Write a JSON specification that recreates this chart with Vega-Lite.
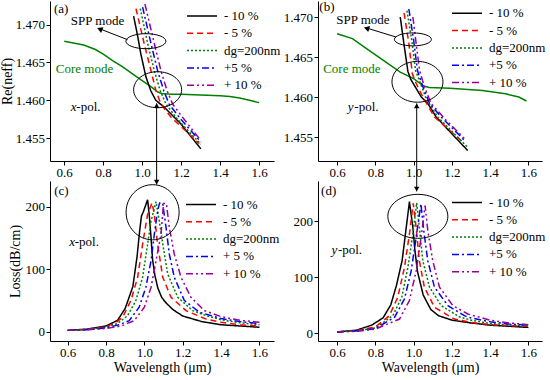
{
  "$schema": "https://vega.github.io/schema/vega-lite/v6.json",
  "padding": {"left": 0, "top": 0, "right": 0, "bottom": 0},
  "background": "white",
  "config": {
    "font": "Liberation Serif",
    "view": {"stroke": null},
    "axis": {"labelFont": "Liberation Serif", "labelFontSize": 13, "labelColor": "#000", "titleFont": "Liberation Serif", "titleFontSize": 14, "titleFontWeight": "normal", "titleColor": "#000", "domainColor": "#000", "tickColor": "#000", "grid": false, "tickSize": 4, "labelPadding": 1.5, "labelFlush": false, "labelOverlap": false, "titlePadding": 1},
    "legend": {"title": null, "orient": "none", "symbolType": "M-2.5,0H2.5", "symbolSize": 144, "symbolStrokeWidth": 1.5, "labelFont": "Liberation Serif", "labelFontSize": 13, "labelColor": "#000", "rowPadding": 3.3, "padding": 0, "labelOffset": 15},
    "text": {"font": "Liberation Serif", "fontSize": 13, "color": "#000"}
  },
  "datasets": {
    "a_core": [
      {"w": 0.6, "v": 1.4678}, {"w": 0.7, "v": 1.4673}, {"w": 0.76, "v": 1.4667}, {"w": 0.8, "v": 1.4661}, {"w": 0.85, "v": 1.4652}, {"w": 0.9, "v": 1.4644}, {"w": 0.95, "v": 1.4635}, {"w": 1.0, "v": 1.4626}, {"w": 1.05, "v": 1.4617}, {"w": 1.08, "v": 1.4611}, {"w": 1.1, "v": 1.4609}, {"w": 1.15, "v": 1.4608}, {"w": 1.2, "v": 1.4608}, {"w": 1.3, "v": 1.4607}, {"w": 1.4, "v": 1.4606}, {"w": 1.45, "v": 1.4605}, {"w": 1.5, "v": 1.4603}, {"w": 1.55, "v": 1.46}, {"w": 1.6, "v": 1.4597}
    ],
    "b_core": [
      {"w": 0.6, "v": 1.4679}, {"w": 0.68, "v": 1.4673}, {"w": 0.75, "v": 1.4661}, {"w": 0.84, "v": 1.4646}, {"w": 0.93, "v": 1.4631}, {"w": 1.0, "v": 1.4623}, {"w": 1.05, "v": 1.4614}, {"w": 1.08, "v": 1.4612}, {"w": 1.19, "v": 1.4611}, {"w": 1.36, "v": 1.4608}, {"w": 1.48, "v": 1.4604}, {"w": 1.55, "v": 1.46}, {"w": 1.59, "v": 1.4595}
    ],
    "a_spp": [
      {"s": "- 10 %", "w": 0.956, "v": 1.4711}, {"s": "- 10 %", "w": 0.975, "v": 1.4687}, {"s": "- 10 %", "w": 0.993, "v": 1.4661}, {"s": "- 10 %", "w": 1.019, "v": 1.4631}, {"s": "- 10 %", "w": 1.045, "v": 1.4612}, {"s": "- 10 %", "w": 1.07, "v": 1.46}, {"s": "- 10 %", "w": 1.113, "v": 1.4591}, {"s": "- 10 %", "w": 1.198, "v": 1.4569}, {"s": "- 10 %", "w": 1.301, "v": 1.4536},
      {"s": "- 5 %", "w": 0.968, "v": 1.4721}, {"s": "- 5 %", "w": 1.01, "v": 1.4675}, {"s": "- 5 %", "w": 1.045, "v": 1.4639}, {"s": "- 5 %", "w": 1.07, "v": 1.4613}, {"s": "- 5 %", "w": 1.096, "v": 1.4595}, {"s": "- 5 %", "w": 1.147, "v": 1.4578}, {"s": "- 5 %", "w": 1.292, "v": 1.4543},
      {"s": "dg=200nm", "w": 0.99, "v": 1.4721}, {"s": "dg=200nm", "w": 1.028, "v": 1.4675}, {"s": "dg=200nm", "w": 1.062, "v": 1.4639}, {"s": "dg=200nm", "w": 1.092, "v": 1.4613}, {"s": "dg=200nm", "w": 1.122, "v": 1.4595}, {"s": "dg=200nm", "w": 1.181, "v": 1.4575}, {"s": "dg=200nm", "w": 1.301, "v": 1.4542},
      {"s": "+5 %", "w": 1.002, "v": 1.4723}, {"s": "+5 %", "w": 1.045, "v": 1.4675}, {"s": "+5 %", "w": 1.079, "v": 1.4639}, {"s": "+5 %", "w": 1.11, "v": 1.4613}, {"s": "+5 %", "w": 1.138, "v": 1.4595}, {"s": "+5 %", "w": 1.198, "v": 1.4575}, {"s": "+5 %", "w": 1.301, "v": 1.4545},
      {"s": "+ 10 %", "w": 1.014, "v": 1.4727}, {"s": "+ 10 %", "w": 1.062, "v": 1.4675}, {"s": "+ 10 %", "w": 1.096, "v": 1.4639}, {"s": "+ 10 %", "w": 1.127, "v": 1.4613}, {"s": "+ 10 %", "w": 1.156, "v": 1.4595}, {"s": "+ 10 %", "w": 1.215, "v": 1.4575}, {"s": "+ 10 %", "w": 1.301, "v": 1.4547}
    ],
    "b_spp": [
      {"s": "- 10 %", "w": 0.93, "v": 1.47}, {"s": "- 10 %", "w": 0.95, "v": 1.4665}, {"s": "- 10 %", "w": 0.97, "v": 1.4632}, {"s": "- 10 %", "w": 0.985, "v": 1.4622}, {"s": "- 10 %", "w": 1.04, "v": 1.46}, {"s": "- 10 %", "w": 1.074, "v": 1.4592}, {"s": "- 10 %", "w": 1.118, "v": 1.4575}, {"s": "- 10 %", "w": 1.2, "v": 1.4554}, {"s": "- 10 %", "w": 1.283, "v": 1.4533},
      {"s": "- 5 %", "w": 0.95, "v": 1.4705}, {"s": "- 5 %", "w": 0.975, "v": 1.4667}, {"s": "- 5 %", "w": 0.993, "v": 1.4629}, {"s": "- 5 %", "w": 1.013, "v": 1.4617}, {"s": "- 5 %", "w": 1.048, "v": 1.46}, {"s": "- 5 %", "w": 1.109, "v": 1.4575}, {"s": "- 5 %", "w": 1.265, "v": 1.4542},
      {"s": "dg=200nm", "w": 0.965, "v": 1.4708}, {"s": "dg=200nm", "w": 0.99, "v": 1.4671}, {"s": "dg=200nm", "w": 1.01, "v": 1.4633}, {"s": "dg=200nm", "w": 1.036, "v": 1.4617}, {"s": "dg=200nm", "w": 1.065, "v": 1.4598}, {"s": "dg=200nm", "w": 1.126, "v": 1.4575}, {"s": "dg=200nm", "w": 1.283, "v": 1.4537},
      {"s": "+5 %", "w": 0.975, "v": 1.471}, {"s": "+5 %", "w": 1.0, "v": 1.4671}, {"s": "+5 %", "w": 1.02, "v": 1.4633}, {"s": "+5 %", "w": 1.048, "v": 1.4613}, {"s": "+5 %", "w": 1.083, "v": 1.4592}, {"s": "+5 %", "w": 1.144, "v": 1.4575}, {"s": "+5 %", "w": 1.265, "v": 1.4546},
      {"s": "+ 10 %", "w": 0.996, "v": 1.47}, {"s": "+ 10 %", "w": 1.013, "v": 1.4667}, {"s": "+ 10 %", "w": 1.031, "v": 1.4633}, {"s": "+ 10 %", "w": 1.056, "v": 1.4613}, {"s": "+ 10 %", "w": 1.091, "v": 1.4592}, {"s": "+ 10 %", "w": 1.17, "v": 1.4571}, {"s": "+ 10 %", "w": 1.274, "v": 1.4546}
    ],
    "c_loss": [
      {"s": "- 10 %", "w": 0.6, "v": 2}, {"s": "- 10 %", "w": 0.7, "v": 4}, {"s": "- 10 %", "w": 0.8, "v": 9}, {"s": "- 10 %", "w": 0.86, "v": 18}, {"s": "- 10 %", "w": 0.9, "v": 37}, {"s": "- 10 %", "w": 0.94, "v": 72}, {"s": "- 10 %", "w": 0.962, "v": 120}, {"s": "- 10 %", "w": 0.975, "v": 160}, {"s": "- 10 %", "w": 0.985, "v": 185}, {"s": "- 10 %", "w": 0.995, "v": 192}, {"s": "- 10 %", "w": 1.017, "v": 211}, {"s": "- 10 %", "w": 1.026, "v": 185}, {"s": "- 10 %", "w": 1.035, "v": 150}, {"s": "- 10 %", "w": 1.043, "v": 115}, {"s": "- 10 %", "w": 1.055, "v": 90}, {"s": "- 10 %", "w": 1.07, "v": 70}, {"s": "- 10 %", "w": 1.09, "v": 55}, {"s": "- 10 %", "w": 1.113, "v": 46}, {"s": "- 10 %", "w": 1.15, "v": 35}, {"s": "- 10 %", "w": 1.2, "v": 25}, {"s": "- 10 %", "w": 1.3, "v": 16}, {"s": "- 10 %", "w": 1.4, "v": 11}, {"s": "- 10 %", "w": 1.5, "v": 9}, {"s": "- 10 %", "w": 1.6, "v": 7},
      {"s": "- 5 %", "w": 0.6, "v": 2}, {"s": "- 5 %", "w": 0.7, "v": 3.5}, {"s": "- 5 %", "w": 0.8, "v": 8}, {"s": "- 5 %", "w": 0.85, "v": 14}, {"s": "- 5 %", "w": 0.887, "v": 23}, {"s": "- 5 %", "w": 0.93, "v": 50}, {"s": "- 5 %", "w": 0.965, "v": 87}, {"s": "- 5 %", "w": 0.991, "v": 140}, {"s": "- 5 %", "w": 1.017, "v": 188}, {"s": "- 5 %", "w": 1.04, "v": 206}, {"s": "- 5 %", "w": 1.052, "v": 188}, {"s": "- 5 %", "w": 1.069, "v": 140}, {"s": "- 5 %", "w": 1.096, "v": 87}, {"s": "- 5 %", "w": 1.139, "v": 55}, {"s": "- 5 %", "w": 1.217, "v": 33.6}, {"s": "- 5 %", "w": 1.322, "v": 20}, {"s": "- 5 %", "w": 1.4, "v": 15}, {"s": "- 5 %", "w": 1.5, "v": 11}, {"s": "- 5 %", "w": 1.6, "v": 9},
      {"s": "dg=200nm", "w": 0.6, "v": 2}, {"s": "dg=200nm", "w": 0.7, "v": 3.5}, {"s": "dg=200nm", "w": 0.8, "v": 7}, {"s": "dg=200nm", "w": 0.86, "v": 13}, {"s": "dg=200nm", "w": 0.913, "v": 25.6}, {"s": "dg=200nm", "w": 0.956, "v": 50}, {"s": "dg=200nm", "w": 0.991, "v": 87}, {"s": "dg=200nm", "w": 1.017, "v": 140}, {"s": "dg=200nm", "w": 1.035, "v": 177}, {"s": "dg=200nm", "w": 1.061, "v": 208}, {"s": "dg=200nm", "w": 1.078, "v": 177}, {"s": "dg=200nm", "w": 1.096, "v": 140}, {"s": "dg=200nm", "w": 1.122, "v": 92}, {"s": "dg=200nm", "w": 1.174, "v": 55}, {"s": "dg=200nm", "w": 1.252, "v": 33.6}, {"s": "dg=200nm", "w": 1.322, "v": 25.6}, {"s": "dg=200nm", "w": 1.4, "v": 19}, {"s": "dg=200nm", "w": 1.5, "v": 14}, {"s": "dg=200nm", "w": 1.6, "v": 11},
      {"s": "+5 %", "w": 0.6, "v": 2}, {"s": "+5 %", "w": 0.7, "v": 3}, {"s": "+5 %", "w": 0.8, "v": 6}, {"s": "+5 %", "w": 0.87, "v": 11}, {"s": "+5 %", "w": 0.921, "v": 17.6}, {"s": "+5 %", "w": 0.973, "v": 39}, {"s": "+5 %", "w": 1.008, "v": 71}, {"s": "+5 %", "w": 1.035, "v": 113.6}, {"s": "+5 %", "w": 1.052, "v": 156}, {"s": "+5 %", "w": 1.07, "v": 195}, {"s": "+5 %", "w": 1.08, "v": 206}, {"s": "+5 %", "w": 1.095, "v": 206}, {"s": "+5 %", "w": 1.113, "v": 167}, {"s": "+5 %", "w": 1.13, "v": 124}, {"s": "+5 %", "w": 1.156, "v": 87}, {"s": "+5 %", "w": 1.208, "v": 50}, {"s": "+5 %", "w": 1.287, "v": 31}, {"s": "+5 %", "w": 1.4, "v": 21}, {"s": "+5 %", "w": 1.5, "v": 16}, {"s": "+5 %", "w": 1.6, "v": 13},
      {"s": "+ 10 %", "w": 0.6, "v": 2}, {"s": "+ 10 %", "w": 0.7, "v": 3}, {"s": "+ 10 %", "w": 0.8, "v": 5}, {"s": "+ 10 %", "w": 0.88, "v": 9}, {"s": "+ 10 %", "w": 0.947, "v": 17.6}, {"s": "+ 10 %", "w": 1.0, "v": 39}, {"s": "+ 10 %", "w": 1.035, "v": 71}, {"s": "+ 10 %", "w": 1.061, "v": 113.6}, {"s": "+ 10 %", "w": 1.087, "v": 156}, {"s": "+ 10 %", "w": 1.1, "v": 205}, {"s": "+ 10 %", "w": 1.115, "v": 205}, {"s": "+ 10 %", "w": 1.13, "v": 167}, {"s": "+ 10 %", "w": 1.156, "v": 124}, {"s": "+ 10 %", "w": 1.191, "v": 87}, {"s": "+ 10 %", "w": 1.243, "v": 55}, {"s": "+ 10 %", "w": 1.313, "v": 33.6}, {"s": "+ 10 %", "w": 1.4, "v": 24}, {"s": "+ 10 %", "w": 1.5, "v": 18}, {"s": "+ 10 %", "w": 1.6, "v": 15}
    ],
    "d_loss": [
      {"s": "- 10 %", "w": 0.6, "v": 2}, {"s": "- 10 %", "w": 0.7, "v": 5}, {"s": "- 10 %", "w": 0.78, "v": 14}, {"s": "- 10 %", "w": 0.84, "v": 27}, {"s": "- 10 %", "w": 0.88, "v": 50}, {"s": "- 10 %", "w": 0.91, "v": 85}, {"s": "- 10 %", "w": 0.94, "v": 130}, {"s": "- 10 %", "w": 0.961, "v": 188}, {"s": "- 10 %", "w": 0.978, "v": 235}, {"s": "- 10 %", "w": 0.996, "v": 189}, {"s": "- 10 %", "w": 1.006, "v": 150}, {"s": "- 10 %", "w": 1.02, "v": 110}, {"s": "- 10 %", "w": 1.05, "v": 68}, {"s": "- 10 %", "w": 1.09, "v": 42}, {"s": "- 10 %", "w": 1.13, "v": 31}, {"s": "- 10 %", "w": 1.2, "v": 23}, {"s": "- 10 %", "w": 1.3, "v": 18}, {"s": "- 10 %", "w": 1.4, "v": 14}, {"s": "- 10 %", "w": 1.5, "v": 12}, {"s": "- 10 %", "w": 1.6, "v": 10},
      {"s": "- 5 %", "w": 0.6, "v": 2}, {"s": "- 5 %", "w": 0.7, "v": 4}, {"s": "- 5 %", "w": 0.8, "v": 11}, {"s": "- 5 %", "w": 0.873, "v": 31}, {"s": "- 5 %", "w": 0.917, "v": 64}, {"s": "- 5 %", "w": 0.952, "v": 117.5}, {"s": "- 5 %", "w": 0.978, "v": 177}, {"s": "- 5 %", "w": 0.998, "v": 232}, {"s": "- 5 %", "w": 1.013, "v": 189}, {"s": "- 5 %", "w": 1.03, "v": 129}, {"s": "- 5 %", "w": 1.056, "v": 82}, {"s": "- 5 %", "w": 1.109, "v": 46}, {"s": "- 5 %", "w": 1.213, "v": 25}, {"s": "- 5 %", "w": 1.3, "v": 19}, {"s": "- 5 %", "w": 1.4, "v": 15}, {"s": "- 5 %", "w": 1.5, "v": 13}, {"s": "- 5 %", "w": 1.6, "v": 12},
      {"s": "dg=200nm", "w": 0.6, "v": 2}, {"s": "dg=200nm", "w": 0.7, "v": 4}, {"s": "dg=200nm", "w": 0.8, "v": 9}, {"s": "dg=200nm", "w": 0.891, "v": 31}, {"s": "dg=200nm", "w": 0.938, "v": 64}, {"s": "dg=200nm", "w": 0.97, "v": 117.5}, {"s": "dg=200nm", "w": 0.996, "v": 177}, {"s": "dg=200nm", "w": 1.016, "v": 233}, {"s": "dg=200nm", "w": 1.03, "v": 189}, {"s": "dg=200nm", "w": 1.048, "v": 129}, {"s": "dg=200nm", "w": 1.083, "v": 82}, {"s": "dg=200nm", "w": 1.144, "v": 49}, {"s": "dg=200nm", "w": 1.239, "v": 29}, {"s": "dg=200nm", "w": 1.3, "v": 23}, {"s": "dg=200nm", "w": 1.4, "v": 17}, {"s": "dg=200nm", "w": 1.5, "v": 14.5}, {"s": "dg=200nm", "w": 1.6, "v": 13},
      {"s": "+5 %", "w": 0.6, "v": 2}, {"s": "+5 %", "w": 0.7, "v": 3.5}, {"s": "+5 %", "w": 0.8, "v": 8}, {"s": "+5 %", "w": 0.9, "v": 28}, {"s": "+5 %", "w": 0.952, "v": 61}, {"s": "+5 %", "w": 0.987, "v": 111}, {"s": "+5 %", "w": 1.013, "v": 171}, {"s": "+5 %", "w": 1.038, "v": 231}, {"s": "+5 %", "w": 1.053, "v": 183}, {"s": "+5 %", "w": 1.074, "v": 129}, {"s": "+5 %", "w": 1.109, "v": 82}, {"s": "+5 %", "w": 1.179, "v": 49}, {"s": "+5 %", "w": 1.265, "v": 31}, {"s": "+5 %", "w": 1.3, "v": 27}, {"s": "+5 %", "w": 1.4, "v": 20}, {"s": "+5 %", "w": 1.5, "v": 16}, {"s": "+5 %", "w": 1.6, "v": 14},
      {"s": "+ 10 %", "w": 0.6, "v": 2}, {"s": "+ 10 %", "w": 0.7, "v": 3}, {"s": "+ 10 %", "w": 0.8, "v": 7}, {"s": "+ 10 %", "w": 0.926, "v": 25}, {"s": "+ 10 %", "w": 0.978, "v": 58}, {"s": "+ 10 %", "w": 1.013, "v": 111}, {"s": "+ 10 %", "w": 1.039, "v": 171}, {"s": "+ 10 %", "w": 1.06, "v": 228}, {"s": "+ 10 %", "w": 1.074, "v": 183}, {"s": "+ 10 %", "w": 1.1, "v": 129}, {"s": "+ 10 %", "w": 1.135, "v": 82}, {"s": "+ 10 %", "w": 1.205, "v": 49}, {"s": "+ 10 %", "w": 1.283, "v": 34}, {"s": "+ 10 %", "w": 1.4, "v": 23}, {"s": "+ 10 %", "w": 1.5, "v": 18}, {"s": "+ 10 %", "w": 1.6, "v": 15}
    ]
  },
  "columns": 2,
  "spacing": {"row": 20, "column": 44},
  "bounds": "flush",
  "resolve": {"scale": {"x": "independent", "y": "independent", "color": "independent", "strokeDash": "independent"}, "legend": {"color": "independent", "strokeDash": "independent"}},
  "concat": [
    {
      "width": 224, "height": 160,
      "layer": [
        {"data": {"name": "a_core"}, "mark": {"type": "line", "color": "#008000", "strokeWidth": 1.5, "clip": true},
         "encoding": {
           "x": {"field": "w", "type": "quantitative", "scale": {"domain": [0.527, 1.676], "nice": false, "zero": false}, "axis": {"title": null, "values": [0.6, 0.7, 0.8, 0.9, 1.0, 1.1, 1.2, 1.3, 1.4, 1.5, 1.6], "labelExpr": "round(datum.value*10) % 2 == 0 ? format(datum.value, '.1f') : ''"}},
           "y": {"field": "v", "type": "quantitative", "scale": {"domain": [1.452, 1.4731], "nice": false, "zero": false}, "axis": {"title": "Re(neff)", "values": [1.455, 1.46, 1.465, 1.47], "format": ".3f"}}
         }},
        {"data": {"name": "a_spp"}, "mark": {"type": "line", "strokeWidth": 1.5, "clip": true},
         "encoding": {
           "x": {"field": "w", "type": "quantitative"},
           "y": {"field": "v", "type": "quantitative"},
           "color": {"field": "s", "type": "nominal", "scale": {"domain": ["- 10 %", "- 5 %", "dg=200nm", "+5 %", "+ 10 %"], "range": ["#000000", "#ff0000", "#008000", "#0000ff", "#990099"]}, "legend": {"legendX": 145, "legendY": 8}},
           "strokeDash": {"field": "s", "type": "nominal", "scale": {"domain": ["- 10 %", "- 5 %", "dg=200nm", "+5 %", "+ 10 %"], "range": [[1, 0], [6, 4], [2, 2], [7, 3, 2, 3], [7, 3, 2, 3, 2, 3]]}, "legend": {"legendX": 145, "legendY": 8}}
         }},
        {"data": {"values": [{"w": 0.547, "v": 1.4721, "t": "(a)"}]}, "mark": {"type": "text", "align": "left", "baseline": "middle"}, "encoding": {"x": {"field": "w", "type": "quantitative"}, "y": {"field": "v", "type": "quantitative"}, "text": {"field": "t"}}},
        {"data": {"values": [{"w": 0.634, "v": 1.4705, "t": "SPP mode"}, {"w": 0.662, "v": 1.4591, "t": "-pol."}]}, "mark": {"type": "text", "align": "left", "baseline": "middle"}, "encoding": {"x": {"field": "w", "type": "quantitative"}, "y": {"field": "v", "type": "quantitative"}, "text": {"field": "t"}}},
        {"data": {"values": [{"w": 0.634, "v": 1.4591, "t": "x"}]}, "mark": {"type": "text", "align": "left", "baseline": "middle", "fontStyle": "italic"}, "encoding": {"x": {"field": "w", "type": "quantitative"}, "y": {"field": "v", "type": "quantitative"}, "text": {"field": "t"}}},
        {"data": {"values": [{"w": 0.557, "v": 1.4641, "t": "Core mode"}]}, "mark": {"type": "text", "align": "left", "baseline": "middle", "color": "#008000"}, "encoding": {"x": {"field": "w", "type": "quantitative"}, "y": {"field": "v", "type": "quantitative"}, "text": {"field": "t"}}},
        {"data": {"values": [{"w": 1.019, "v": 1.4678}]}, "mark": {"type": "point", "filled": false, "stroke": "#000", "strokeWidth": 1, "opacity": 1, "size": 1600, "shape": "M-1,0C-1,-0.207,-0.552,-0.375,0,-0.375C0.552,-0.375,1,-0.207,1,0C1,0.207,0.552,0.375,0,0.375C-0.552,0.375,-1,0.207,-1,0Z"}, "encoding": {"x": {"field": "w", "type": "quantitative"}, "y": {"field": "v", "type": "quantitative"}}},
        {"data": {"values": [{"w": 1.079, "v": 1.4614}]}, "mark": {"type": "point", "filled": false, "stroke": "#000", "strokeWidth": 1, "opacity": 1, "size": 2304, "shape": "M-1,0C-1,-0.414,-0.552,-0.75,0,-0.75C0.552,-0.75,1,-0.414,1,0C1,0.414,0.552,0.75,0,0.75C-0.552,0.75,-1,0.414,-1,0Z"}, "encoding": {"x": {"field": "w", "type": "quantitative"}, "y": {"field": "v", "type": "quantitative"}}},
        {"data": {"values": [{"w": 0.925, "v": 1.468, "w2": 0.785, "v2": 1.4694}]}, "mark": {"type": "rule", "color": "#000", "strokeWidth": 1}, "encoding": {"x": {"field": "w", "type": "quantitative"}, "y": {"field": "v", "type": "quantitative"}, "x2": {"field": "w2"}, "y2": {"field": "v2"}}},
        {"data": {"values": [{"w": 0.782, "v": 1.4694}]}, "mark": {"type": "point", "shape": "triangle-left", "angle": 22, "filled": true, "color": "#000", "opacity": 1, "size": 40}, "encoding": {"x": {"field": "w", "type": "quantitative"}, "y": {"field": "v", "type": "quantitative"}}},
        {"data": {"values": [{"w": 1.074, "v": 1.4596, "v2": 1.4489}]}, "mark": {"type": "rule", "color": "#000", "strokeWidth": 1, "clip": false}, "encoding": {"x": {"field": "w", "type": "quantitative"}, "y": {"field": "v", "type": "quantitative"}, "y2": {"field": "v2"}}},
        {"data": {"values": [{"w": 1.074, "v": 1.4593}]}, "mark": {"type": "point", "shape": "triangle-up", "filled": true, "color": "#000", "opacity": 1, "size": 30, "clip": false}, "encoding": {"x": {"field": "w", "type": "quantitative"}, "y": {"field": "v", "type": "quantitative"}}},
        {"data": {"values": [{"w": 1.074, "v": 1.4492}]}, "mark": {"type": "point", "shape": "triangle-down", "filled": true, "color": "#000", "opacity": 1, "size": 30, "clip": false}, "encoding": {"x": {"field": "w", "type": "quantitative"}, "y": {"field": "v", "type": "quantitative"}}}
      ]
    },
    {
      "width": 224, "height": 160,
      "layer": [
        {"data": {"name": "b_core"}, "mark": {"type": "line", "color": "#008000", "strokeWidth": 1.5, "clip": true},
         "encoding": {
           "x": {"field": "w", "type": "quantitative", "scale": {"domain": [0.5, 1.671], "nice": false, "zero": false}, "axis": {"title": null, "values": [0.6, 0.7, 0.8, 0.9, 1.0, 1.1, 1.2, 1.3, 1.4, 1.5, 1.6], "labelExpr": "round(datum.value*10) % 2 == 0 ? format(datum.value, '.1f') : ''"}},
           "y": {"field": "v", "type": "quantitative", "scale": {"domain": [1.452, 1.472], "nice": false, "zero": false}, "axis": {"title": null, "values": [1.455, 1.46, 1.465, 1.47], "format": ".3f"}}
         }},
        {"data": {"name": "b_spp"}, "mark": {"type": "line", "strokeWidth": 1.5, "clip": true},
         "encoding": {
           "x": {"field": "w", "type": "quantitative"},
           "y": {"field": "v", "type": "quantitative"},
           "color": {"field": "s", "type": "nominal", "scale": {"domain": ["- 10 %", "- 5 %", "dg=200nm", "+5 %", "+ 10 %"], "range": ["#000000", "#ff0000", "#008000", "#0000ff", "#990099"]}, "legend": {"legendX": 142, "legendY": 5.3}},
           "strokeDash": {"field": "s", "type": "nominal", "scale": {"domain": ["- 10 %", "- 5 %", "dg=200nm", "+5 %", "+ 10 %"], "range": [[1, 0], [6, 4], [2, 2], [7, 3, 2, 3], [7, 3, 2, 3, 2, 3]]}, "legend": {"legendX": 142, "legendY": 5.3}}
         }},
        {"data": {"values": [{"w": 0.507, "v": 1.4713, "t": "(b)"}]}, "mark": {"type": "text", "align": "left", "baseline": "middle"}, "encoding": {"x": {"field": "w", "type": "quantitative"}, "y": {"field": "v", "type": "quantitative"}, "text": {"field": "t"}}},
        {"data": {"values": [{"w": 0.595, "v": 1.4696, "t": "SPP mode"}, {"w": 0.69, "v": 1.4588, "t": "-pol."}]}, "mark": {"type": "text", "align": "left", "baseline": "middle"}, "encoding": {"x": {"field": "w", "type": "quantitative"}, "y": {"field": "v", "type": "quantitative"}, "text": {"field": "t"}}},
        {"data": {"values": [{"w": 0.656, "v": 1.4588, "t": "y"}]}, "mark": {"type": "text", "align": "left", "baseline": "middle", "fontStyle": "italic"}, "encoding": {"x": {"field": "w", "type": "quantitative"}, "y": {"field": "v", "type": "quantitative"}, "text": {"field": "t"}}},
        {"data": {"values": [{"w": 0.527, "v": 1.4635, "t": "Core mode"}]}, "mark": {"type": "text", "align": "left", "baseline": "middle", "color": "#008000"}, "encoding": {"x": {"field": "w", "type": "quantitative"}, "y": {"field": "v", "type": "quantitative"}, "text": {"field": "t"}}},
        {"data": {"values": [{"w": 0.996, "v": 1.4672}]}, "mark": {"type": "point", "filled": false, "stroke": "#000", "strokeWidth": 1, "opacity": 1, "size": 1369, "shape": "M-1,0C-1,-0.193,-0.552,-0.35,0,-0.35C0.552,-0.35,1,-0.193,1,0C1,0.193,0.552,0.35,0,0.35C-0.552,0.35,-1,0.193,-1,0Z"}, "encoding": {"x": {"field": "w", "type": "quantitative"}, "y": {"field": "v", "type": "quantitative"}}},
        {"data": {"values": [{"w": 1.02, "v": 1.4619}]}, "mark": {"type": "point", "filled": false, "stroke": "#000", "strokeWidth": 1, "opacity": 1, "size": 2601, "shape": "M-1,0C-1,-0.442,-0.552,-0.8,0,-0.8C0.552,-0.8,1,-0.442,1,0C1,0.442,0.552,0.8,0,0.8C-0.552,0.8,-1,0.442,-1,0Z"}, "encoding": {"x": {"field": "w", "type": "quantitative"}, "y": {"field": "v", "type": "quantitative"}}},
        {"data": {"values": [{"w": 0.908, "v": 1.4675, "w2": 0.757, "v2": 1.4686}]}, "mark": {"type": "rule", "color": "#000", "strokeWidth": 1}, "encoding": {"x": {"field": "w", "type": "quantitative"}, "y": {"field": "v", "type": "quantitative"}, "x2": {"field": "w2"}, "y2": {"field": "v2"}}},
        {"data": {"values": [{"w": 0.754, "v": 1.4686}]}, "mark": {"type": "point", "shape": "triangle-left", "angle": 17, "filled": true, "color": "#000", "opacity": 1, "size": 40}, "encoding": {"x": {"field": "w", "type": "quantitative"}, "y": {"field": "v", "type": "quantitative"}}},
        {"data": {"values": [{"w": 1.016, "v": 1.4592, "v2": 1.4482}]}, "mark": {"type": "rule", "color": "#000", "strokeWidth": 1, "clip": false}, "encoding": {"x": {"field": "w", "type": "quantitative"}, "y": {"field": "v", "type": "quantitative"}, "y2": {"field": "v2"}}},
        {"data": {"values": [{"w": 1.016, "v": 1.4589}]}, "mark": {"type": "point", "shape": "triangle-up", "filled": true, "color": "#000", "opacity": 1, "size": 30, "clip": false}, "encoding": {"x": {"field": "w", "type": "quantitative"}, "y": {"field": "v", "type": "quantitative"}}},
        {"data": {"values": [{"w": 1.016, "v": 1.4485}]}, "mark": {"type": "point", "shape": "triangle-down", "filled": true, "color": "#000", "opacity": 1, "size": 30, "clip": false}, "encoding": {"x": {"field": "w", "type": "quantitative"}, "y": {"field": "v", "type": "quantitative"}}}
      ]
    },
    {
      "width": 224, "height": 160,
      "layer": [
        {"data": {"name": "c_loss"}, "mark": {"type": "line", "strokeWidth": 1.5, "clip": true},
         "encoding": {
           "x": {"field": "w", "type": "quantitative", "scale": {"domain": [0.508, 1.676], "nice": false, "zero": false}, "axis": {"title": "Wavelength (μm)", "values": [0.6, 0.7, 0.8, 0.9, 1.0, 1.1, 1.2, 1.3, 1.4, 1.5, 1.6], "labelExpr": "round(datum.value*10) % 2 == 0 ? format(datum.value, '.1f') : ''"}},
           "y": {"field": "v", "type": "quantitative", "scale": {"domain": [-15, 241], "nice": false, "zero": false}, "axis": {"title": "Loss(dB/cm)", "titlePadding": 3, "values": [0, 25, 50, 75, 100, 125, 150, 175, 200, 225], "labelExpr": "datum.value % 50 == 0 ? format(datum.value, 'd') : ''"}},
           "color": {"field": "s", "type": "nominal", "scale": {"domain": ["- 10 %", "- 5 %", "dg=200nm", "+5 %", "+ 10 %"], "range": ["#000000", "#ff0000", "#008000", "#0000ff", "#990099"]}, "legend": {"legendX": 144, "legendY": 16.5, "labelExpr": "datum.label == '+5 %' ? '+ 5 %' : datum.label"}},
           "strokeDash": {"field": "s", "type": "nominal", "scale": {"domain": ["- 10 %", "- 5 %", "dg=200nm", "+5 %", "+ 10 %"], "range": [[1, 0], [6, 4], [2, 2], [7, 3, 2, 3], [7, 3, 2, 3, 2, 3]]}, "legend": {"legendX": 144, "legendY": 16.5, "labelExpr": "datum.label == '+5 %' ? '+ 5 %' : datum.label"}}
         }},
        {"data": {"values": [{"w": 0.53, "v": 225.6, "t": "(c)"}]}, "mark": {"type": "text", "align": "left", "baseline": "middle"}, "encoding": {"x": {"field": "w", "type": "quantitative"}, "y": {"field": "v", "type": "quantitative"}, "text": {"field": "t"}}},
        {"data": {"values": [{"w": 0.637, "v": 143, "t": "-pol."}]}, "mark": {"type": "text", "align": "left", "baseline": "middle"}, "encoding": {"x": {"field": "w", "type": "quantitative"}, "y": {"field": "v", "type": "quantitative"}, "text": {"field": "t"}}},
        {"data": {"values": [{"w": 0.608, "v": 143, "t": "x"}]}, "mark": {"type": "text", "align": "left", "baseline": "middle", "fontStyle": "italic"}, "encoding": {"x": {"field": "w", "type": "quantitative"}, "y": {"field": "v", "type": "quantitative"}, "text": {"field": "t"}}},
        {"data": {"values": [{"w": 1.043, "v": 191}]}, "mark": {"type": "point", "filled": false, "stroke": "#000", "strokeWidth": 1, "opacity": 1, "size": 2809, "shape": "M-1,0C-1,-0.574,-0.552,-1.04,0,-1.04C0.552,-1.04,1,-0.574,1,0C1,0.574,0.552,1.04,0,1.04C-0.552,1.04,-1,0.574,-1,0Z"}, "encoding": {"x": {"field": "w", "type": "quantitative"}, "y": {"field": "v", "type": "quantitative"}}}
      ]
    },
    {
      "width": 224, "height": 160,
      "layer": [
        {"data": {"name": "d_loss"}, "mark": {"type": "line", "strokeWidth": 1.5, "clip": true},
         "encoding": {
           "x": {"field": "w", "type": "quantitative", "scale": {"domain": [0.5, 1.671], "nice": false, "zero": false}, "axis": {"title": "Wavelength (μm)", "values": [0.6, 0.7, 0.8, 0.9, 1.0, 1.1, 1.2, 1.3, 1.4, 1.5, 1.6], "labelExpr": "round(datum.value*10) % 2 == 0 ? format(datum.value, '.1f') : ''"}},
           "y": {"field": "v", "type": "quantitative", "scale": {"domain": [-14.3, 272], "nice": false, "zero": false}, "axis": {"title": null, "values": [0, 25, 50, 75, 100, 125, 150, 175, 200, 225, 250], "labelExpr": "datum.value % 50 == 0 ? format(datum.value, 'd') : ''"}},
           "color": {"field": "s", "type": "nominal", "scale": {"domain": ["- 10 %", "- 5 %", "dg=200nm", "+5 %", "+ 10 %"], "range": ["#000000", "#ff0000", "#008000", "#0000ff", "#990099"]}, "legend": {"legendX": 142, "legendY": 14.5}},
           "strokeDash": {"field": "s", "type": "nominal", "scale": {"domain": ["- 10 %", "- 5 %", "dg=200nm", "+5 %", "+ 10 %"], "range": [[1, 0], [6, 4], [2, 2], [7, 3, 2, 3], [7, 3, 2, 3, 2, 3]]}, "legend": {"legendX": 142, "legendY": 14.5}}
         }},
        {"data": {"values": [{"w": 0.516, "v": 254.6, "t": "(d)"}]}, "mark": {"type": "text", "align": "left", "baseline": "middle"}, "encoding": {"x": {"field": "w", "type": "quantitative"}, "y": {"field": "v", "type": "quantitative"}, "text": {"field": "t"}}},
        {"data": {"values": [{"w": 0.604, "v": 148.5, "t": "-pol."}]}, "mark": {"type": "text", "align": "left", "baseline": "middle"}, "encoding": {"x": {"field": "w", "type": "quantitative"}, "y": {"field": "v", "type": "quantitative"}, "text": {"field": "t"}}},
        {"data": {"values": [{"w": 0.57, "v": 148.5, "t": "y"}]}, "mark": {"type": "text", "align": "left", "baseline": "middle", "fontStyle": "italic"}, "encoding": {"x": {"field": "w", "type": "quantitative"}, "y": {"field": "v", "type": "quantitative"}, "text": {"field": "t"}}},
        {"data": {"values": [{"w": 1.022, "v": 208.8}]}, "mark": {"type": "point", "filled": false, "stroke": "#000", "strokeWidth": 1, "opacity": 1, "size": 3600, "shape": "M-1,0C-1,-0.405,-0.552,-0.733,0,-0.733C0.552,-0.733,1,-0.405,1,0C1,0.405,0.552,0.733,0,0.733C-0.552,0.733,-1,0.405,-1,0Z"}, "encoding": {"x": {"field": "w", "type": "quantitative"}, "y": {"field": "v", "type": "quantitative"}}}
      ]
    }
  ]
}
